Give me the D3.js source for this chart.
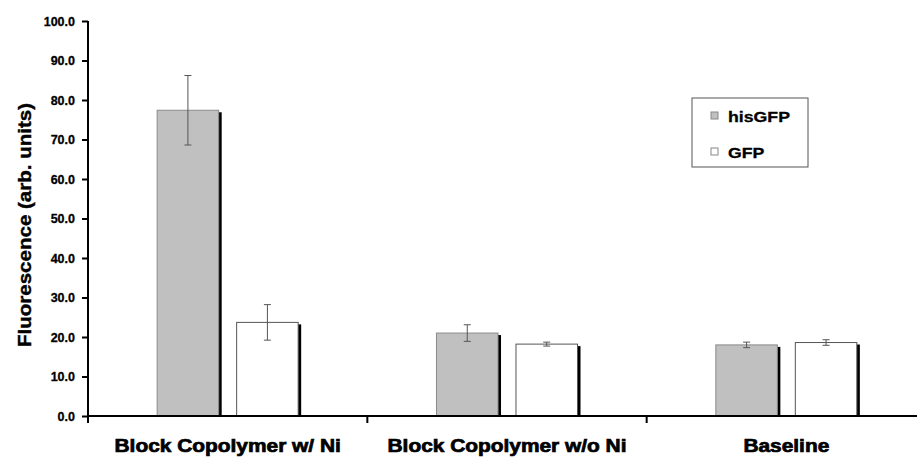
<!DOCTYPE html>
<html>
<head>
<meta charset="utf-8">
<script src="https://cdn.jsdelivr.net/npm/d3@7"></script>
<style>
	body { margin: 0; background: #fff; }
	svg { display: block; }
	text { font-family: "Liberation Sans", Arial, sans-serif; font-weight: bold; }
</style>
</head>
<body>
<div id="chart"></div>
<script>
// data
var categories = ["Block Copolymer w/ Ni", "Block Copolymer w/o Ni", "Baseline"];
var series = ["hisGFP", "GFP"];
var hisGFP = [77.4, 21.0, 18.0];
var hisGFPErr = [8.8, 2.1, 0.7];
var gfp = [23.7, 18.2, 18.6];
var gfpErr = [4.5, 0.5, 0.7];
var yTicks = [0, 10, 20, 30, 40, 50, 60, 70, 80, 90, 100];

var fills = { hisGFP: "#c0c0c0", GFP: "#ffffff" };
var strokes = { hisGFP: "#8a8a8a", GFP: "#555555" };

var w = 917, h = 457;

// stretch text a bit wider, the original font renders broad
function stretch(sel, factor) {
	sel.each(function() {
		var len = this.getComputedTextLength();
		d3.select(this)
			.attr("textLength", len * factor)
			.attr("lengthAdjust", "spacingAndGlyphs");
	});
}

var svg = d3.select("#chart").append("svg")
	.attr("width", w)
	.attr("height", h);

var x = d3.scaleBand()
	.domain(categories)
	.range([88, 926])
	.padding(0);

var xInner = d3.scaleBand()
	.domain(series)
	.range([0, x.bandwidth()])
	.paddingInner(0.226)
	.paddingOuter(0.87);

var y = d3.scaleLinear()
	.domain([0, 100])
	.range([416, 21]);

// flatten the rows for drawing
var rows = [];
categories.forEach(function(c, i) {
	rows.push({ cat: c, s: "hisGFP", v: hisGFP[i], e: hisGFPErr[i] });
	rows.push({ cat: c, s: "GFP", v: gfp[i], e: gfpErr[i] });
});

var bars = svg.append("g").selectAll("g")
	.data(rows)
	.enter().append("g")
	.attr("transform", function(d) {
		return "translate(" + (x(d.cat) + xInner(d.s)) + ",0)";
	});

// black drop shadow on the right side
bars.append("rect")
	.attr("x", 3)
	.attr("y", function(d) { return y(d.v) + 2; })
	.attr("width", xInner.bandwidth())
	.attr("height", function(d) { return y(0) - y(d.v) - 2; })
	.attr("fill", "#000");

bars.append("rect")
	.attr("x", 0)
	.attr("y", function(d) { return y(d.v); })
	.attr("width", xInner.bandwidth())
	.attr("height", function(d) { return y(0) - y(d.v); })
	.attr("fill", function(d) { return fills[d.s]; })
	.attr("stroke", function(d) { return strokes[d.s]; })
	.attr("stroke-width", 1);

// error bars
var cx = xInner.bandwidth() / 2;
bars.append("line")
	.attr("x1", cx).attr("x2", cx)
	.attr("y1", function(d) { return y(d.v + d.e); })
	.attr("y2", function(d) { return y(d.v - d.e); })
	.attr("stroke", "#555").attr("stroke-width", 1);
bars.selectAll(".cap")
	.data(function(d) { return [d.v + d.e, d.v - d.e]; })
	.enter().append("line")
	.attr("x1", cx - 3.5).attr("x2", cx + 3.5)
	.attr("y1", function(v) { return y(v); })
	.attr("y2", function(v) { return y(v); })
	.attr("stroke", "#555").attr("stroke-width", 1);

// y axis
var yAxis = svg.append("g")
	.attr("transform", "translate(88,0)")
	.call(d3.axisLeft(y).tickValues(yTicks).tickSize(6).tickPadding(7)
		.tickFormat(d3.format(".1f")));
yAxis.select(".domain").attr("stroke-width", 2).attr("d", "M0,21V417");
yAxis.selectAll(".tick line").attr("stroke-width", 2);
yAxis.selectAll(".tick text")
	.style("font-size", "12.5px")
	.attr("fill", "#000")
	.attr("stroke", "#000")
	.attr("stroke-width", 0.3);

// x axis
var xAxis = svg.append("g")
	.attr("transform", "translate(0,416)")
	.call(d3.axisBottom(x).tickSize(0).tickPadding(0));
xAxis.select(".domain").attr("stroke-width", 2).attr("d", "M88,0H917");
xAxis.selectAll(".tick text")
	.attr("y", 36)
	.attr("dy", 0)
	.attr("fill", "#000")
	.attr("stroke", "#000")
	.attr("stroke-width", 0.7)
	.style("font-size", "18px")
	.call(stretch, 1.16);

// category dividers
svg.append("g").selectAll("line")
	.data(categories)
	.enter().append("line")
	.attr("x1", function(d) { return x(d); })
	.attr("x2", function(d) { return x(d); })
	.attr("y1", 416).attr("y2", 423)
	.attr("stroke", "#000").attr("stroke-width", 2);

// y axis title
svg.append("text")
	.attr("transform", "translate(31,225) rotate(-90)")
	.attr("text-anchor", "middle")
	.attr("fill", "#000")
	.attr("stroke", "#000")
	.attr("stroke-width", 0.4)
	.style("font-size", "19px")
	.text("Fluorescence (arb. units)")
	.call(stretch, 1.08);

// legend
var legend = svg.append("g").attr("transform", "translate(692,98)");
legend.append("rect")
	.attr("width", 116).attr("height", 69)
	.attr("fill", "#fff")
	.attr("stroke", "#555").attr("stroke-width", 1);
var items = legend.selectAll(".item")
	.data(series)
	.enter().append("g")
	.attr("transform", function(d, i) { return "translate(19," + (14 + i * 36) + ")"; });
items.append("rect")
	.attr("width", 7).attr("height", 7)
	.attr("fill", function(d) { return fills[d]; })
	.attr("stroke", "#888");
items.append("text")
	.attr("x", 17).attr("y", 10)
	.attr("fill", "#000")
	.attr("stroke", "#000")
	.attr("stroke-width", 0.3)
	.style("font-size", "15px")
	.text(function(d) { return d; })
	.call(stretch, 1.18);
</script>
</body>
</html>
